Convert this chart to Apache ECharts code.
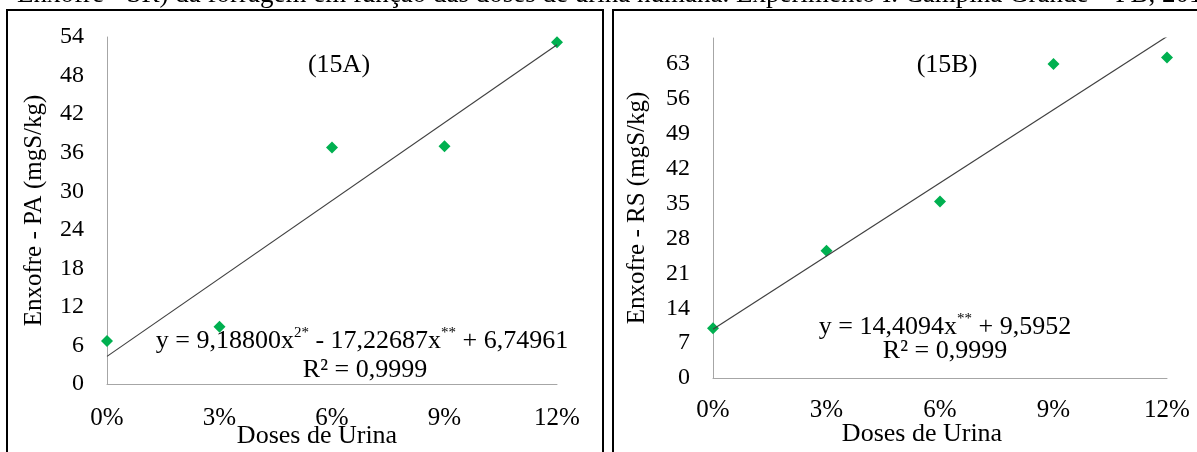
<!DOCTYPE html>
<html>
<head>
<meta charset="utf-8">
<script src="https://cdn.jsdelivr.net/npm/echarts@6/dist/echarts.min.js"></script>
<style>html,body{margin:0;padding:0;background:#fff;}#c{width:1197px;height:452px;}</style>
</head>
<body>
<div id="c"></div>
<script>
// ---- data ----
const doses = [0, 3, 6, 9, 12];               // % urine dose
const enxofrePA = [6.7, 8.9, 36.8, 37.0, 53.2]; // panel 15A
const enxofreRS = [10.0, 25.5, 35.4, 63.0, 64.3]; // panel 15B
const trendDoses = [0, 12];
const trendPA = [4.3, 52.8];
const trendRS = [9.8, 68.5];
const yMaxPA = 54, yStepPA = 6;
const yMaxRS = 68.2, yStepRS = 7;
const xStep = 3;
const titleText = 'Enxofre - SR) da forragem em função das doses de urina humana. Experimento I. Campina Grande – PB, 2014';
const yTitlePA = 'Enxofre - PA (mgS/kg)';
const yTitleRS = 'Enxofre - RS (mgS/kg)';
const xTitle = 'Doses de Urina';
const panelLabels = ['(15A)', '(15B)'];

const FONT = '"Liberation Serif", "Times New Roman", serif';
const chart = echarts.init(document.getElementById('c'), null, {renderer: 'canvas'});

function pairs(xs, ys) { return xs.map((x, i) => [x, ys[i]]); }

const axisLineStyle = {show: true, lineStyle: {color: '#a6a6a6', width: 1}};
function xAxis(gi) {
  return {
    type: 'value', gridIndex: gi, min: 0, max: 12, interval: xStep,
    axisLine: axisLineStyle, axisTick: {show: false}, splitLine: {show: false},
    axisLabel: {formatter: v => v + '%', color: '#000', fontFamily: FONT, fontSize: 25, margin: gi === 0 ? 22 : 20}
  };
}
function yAxis(gi, max, step, name, gap) {
  return {
    type: 'value', gridIndex: gi, min: 0, max: max, interval: step,
    axisLine: axisLineStyle, axisTick: {show: false}, splitLine: {show: false},
    axisLabel: {color: '#000', fontFamily: FONT, fontSize: 24, margin: 23, showMaxLabel: max % step === 0},
    name: name, nameLocation: 'middle', nameRotate: 90, nameGap: gap,
    nameTextStyle: {color: '#000', fontFamily: FONT, fontSize: 25}
  };
}

const richEq = {
  n: {fontFamily: FONT, fontSize: 26, color: '#000'},
  s: {fontFamily: FONT, fontSize: 15, color: '#000', verticalAlign: 'top', lineHeight: 30}
};

chart.setOption({
  animation: false,
  backgroundColor: '#fff',
  grid: [
    {left: 107, top: 37, width: 450, height: 347},
    {left: 713, top: 38, width: 454, height: 340}
  ],
  xAxis: [xAxis(0), xAxis(1)],
  yAxis: [yAxis(0, yMaxPA, yStepPA, yTitlePA, 60), yAxis(1, yMaxRS, yStepRS, yTitleRS, 63)],
  series: [
    {type: 'line', xAxisIndex: 0, yAxisIndex: 0, data: pairs(trendDoses, trendPA), symbol: 'none',
     lineStyle: {color: '#404040', width: 1.2}},
    {type: 'scatter', xAxisIndex: 0, yAxisIndex: 0, data: pairs(doses, enxofrePA), symbol: 'diamond', symbolSize: 12,
     itemStyle: {color: '#00b050', opacity: 1}},
    {type: 'line', xAxisIndex: 1, yAxisIndex: 1, data: pairs(trendDoses, trendRS), symbol: 'none',
     lineStyle: {color: '#404040', width: 1.2}},
    {type: 'scatter', xAxisIndex: 1, yAxisIndex: 1, data: pairs(doses, enxofreRS), symbol: 'diamond', symbolSize: 12,
     itemStyle: {color: '#00b050', opacity: 1}}
  ],
  graphic: [
    {type: 'text', left: 17, top: -19, silent: true,
     style: {text: titleText, font: '27px ' + FONT, fill: '#000'}},
    {type: 'rect', shape: {x: 7, y: 10, width: 596, height: 460}, style: {fill: 'none', stroke: '#000', lineWidth: 2}, silent: true},
    {type: 'rect', shape: {x: 613, y: 10, width: 600, height: 460}, style: {fill: 'none', stroke: '#000', lineWidth: 2}, silent: true},
    {type: 'text', x: 339, y: 65, silent: true,
     style: {text: panelLabels[0], font: '26px ' + FONT, fill: '#000', align: 'center', verticalAlign: 'middle'}},
    {type: 'text', x: 947, y: 65, silent: true,
     style: {text: panelLabels[1], font: '26px ' + FONT, fill: '#000', align: 'center', verticalAlign: 'middle'}},
    {type: 'text', x: 317, y: 436, silent: true,
     style: {text: xTitle, font: '26px ' + FONT, fill: '#000', align: 'center', verticalAlign: 'middle'}},
    {type: 'text', x: 922, y: 434, silent: true,
     style: {text: xTitle, font: '26px ' + FONT, fill: '#000', align: 'center', verticalAlign: 'middle'}},
    {type: 'text', x: 362, y: 341, silent: true,
     style: {text: '{n|y = 9,18800x}{s|2*}{n| - 17,22687x}{s|**}{n| + 6,74961}', rich: richEq, align: 'center', verticalAlign: 'middle'}},
    {type: 'text', x: 365, y: 370, silent: true,
     style: {text: 'R² = 0,9999', font: '26px ' + FONT, fill: '#000', align: 'center', verticalAlign: 'middle'}},
    {type: 'text', x: 945, y: 327, silent: true,
     style: {text: '{n|y = 14,4094x}{s|**}{n| + 9,5952}', rich: richEq, align: 'center', verticalAlign: 'middle'}},
    {type: 'text', x: 945, y: 351, silent: true,
     style: {text: 'R² = 0,9999', font: '26px ' + FONT, fill: '#000', align: 'center', verticalAlign: 'middle'}}
  ]
});
</script>
</body>
</html>
